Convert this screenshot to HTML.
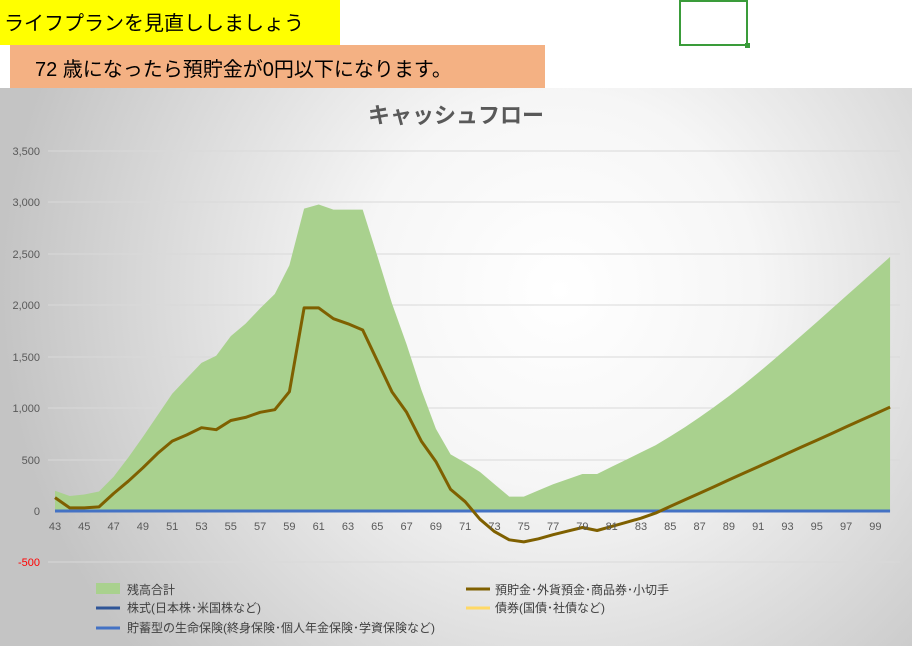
<!DOCTYPE html>
<html><head><meta charset="utf-8"><style>
html,body{margin:0;padding:0;width:912px;height:646px;overflow:hidden;background:#fff;font-family:"Liberation Sans","Noto Sans CJK JP",sans-serif;}
</style></head><body>
<svg width="912" height="646" xmlns="http://www.w3.org/2000/svg" style="position:absolute;left:0;top:0">
<defs>
<radialGradient id="bg" cx="560" cy="290" r="560" gradientUnits="userSpaceOnUse">
<stop offset="0" stop-color="#ffffff"/><stop offset="0.35" stop-color="#f6f6f6"/><stop offset="1" stop-color="#c4c4c4"/>
</radialGradient>
</defs>
<rect x="0" y="0" width="340" height="45" fill="#ffff00"/>
<text x="4" y="30" font-size="20" fill="#000" font-family="Liberation Sans,Noto Sans CJK JP,sans-serif">ライフプランを見直ししましょう</text>
<rect x="10" y="45" width="535" height="43" fill="#f4b183"/>
<text x="35" y="76" font-size="20" fill="#000" font-family="Liberation Sans,Noto Sans CJK JP,sans-serif">72 歳になったら預貯金が0円以下になります。</text>
<rect x="680" y="1" width="67" height="44" fill="none" stroke="#3a9c3a" stroke-width="2"/>
<rect x="745" y="43" width="5" height="5" fill="#3a9c3a"/>
<rect x="0" y="88" width="912" height="558" fill="url(#bg)"/>
<text x="456" y="123" font-size="22" font-weight="bold" fill="#595959" text-anchor="middle" font-family="Liberation Sans,Noto Sans CJK JP,sans-serif">キャッシュフロー</text>
<g stroke="#d9d9d9" stroke-width="1">
<line x1="48" x2="900" y1="151" y2="151"/><line x1="48" x2="900" y1="202" y2="202"/>
<line x1="48" x2="900" y1="254" y2="254"/><line x1="48" x2="900" y1="305" y2="305"/>
<line x1="48" x2="900" y1="357" y2="357"/><line x1="48" x2="900" y1="408" y2="408"/>
<line x1="48" x2="900" y1="460" y2="460"/><line x1="48" x2="900" y1="562" y2="562"/>
</g>
<g font-size="11" fill="#595959" text-anchor="end" font-family="Liberation Sans,sans-serif">
<text x="40" y="155">3,500</text><text x="40" y="206">3,000</text><text x="40" y="258">2,500</text>
<text x="40" y="309">2,000</text><text x="40" y="361">1,500</text><text x="40" y="412">1,000</text>
<text x="40" y="464">500</text><text x="40" y="515">0</text><text x="40" y="566" fill="#ff0000">-500</text>
</g>
<g id="plot"></g>
<g font-size="11" fill="#595959" text-anchor="middle" id="xl" font-family="Liberation Sans,sans-serif"></g>
<g font-size="12" fill="#404040" font-family="Liberation Sans,Noto Sans CJK JP,sans-serif">
<rect x="96" y="583" width="24" height="11" fill="#a9d18e"/><text x="127" y="594">残高合計</text>
<line x1="466" x2="490" y1="589" y2="589" stroke="#7f6000" stroke-width="3"/><text x="495" y="594">預貯金･外貨預金･商品券･小切手</text>
<line x1="96" x2="120" y1="608" y2="608" stroke="#2f5597" stroke-width="3"/><text x="127" y="612">株式(日本株･米国株など)</text>
<line x1="466" x2="490" y1="608" y2="608" stroke="#ffd966" stroke-width="3"/><text x="495" y="612">債券(国債･社債など)</text>
<line x1="96" x2="120" y1="628" y2="628" stroke="#4472c4" stroke-width="3"/><text x="127" y="632">貯蓄型の生命保険(終身保険･個人年金保険･学資保険など)</text>
</g>
</svg>
<script>
var area=[197,146,160,190,333,520,720,930,1140,1290,1440,1510,1700,1820,1970,2110,2390,2940,2980,2930,2930,2930,2480,2020,1620,1180,800,550,470,380,260,140,140,200,260,310,360,360,430,500,570,640];
// 85..100
var a84=640;var inc=[85,90,95,100,105,110,115,120,122,124,125,126,126,126,126,126];
for(var i=0;i<16;i++){a84+=inc[i];area.push(a84);}
var sc=2470/area[area.length-1];
for(var i=42;i<area.length;i++){area[i]=640+(area[i]-640)*(2470-640)/(a84-640);}
var line=[130,30,30,40,170,290,420,560,680,740,810,790,880,910,960,985,1160,1975,1975,1870,1820,1760,1460,1160,960,680,480,210,90,-80,-200,-280,-300,-270,-230,-195,-160,-190,-150,-110,-70,-20];
for(var i=1;i<=16;i++){line.push(-20+i*64.4);}
function X(i){return 55+i*14.65;}function Y(v){return 511-v*0.10286;}
var ns="http://www.w3.org/2000/svg";var g=document.getElementById("plot");
var d="M"+X(0)+","+Y(0);for(var i=0;i<area.length;i++)d+=" L"+X(i).toFixed(1)+","+Y(area[i]).toFixed(1);d+=" L"+X(area.length-1)+","+Y(0)+"Z";
var p=document.createElementNS(ns,"path");p.setAttribute("d",d);p.setAttribute("fill","#a9d18e");g.appendChild(p);
var b=document.createElementNS(ns,"line");b.setAttribute("x1",X(0));b.setAttribute("x2",X(57));b.setAttribute("y1",511);b.setAttribute("y2",511);b.setAttribute("stroke","#4472c4");b.setAttribute("stroke-width","3");g.appendChild(b);
var pts="";for(var i=0;i<line.length;i++)pts+=X(i).toFixed(1)+","+Y(line[i]).toFixed(1)+" ";
var pl=document.createElementNS(ns,"polyline");pl.setAttribute("points",pts);pl.setAttribute("fill","none");pl.setAttribute("stroke","#7f6000");pl.setAttribute("stroke-width","3");pl.setAttribute("stroke-linejoin","round");g.appendChild(pl);
var xl=document.getElementById("xl");
for(var a=43;a<=99;a+=2){var t=document.createElementNS(ns,"text");t.setAttribute("x",X(a-43));t.setAttribute("y",530);t.textContent=a;xl.appendChild(t);}
</script>
</body></html>
